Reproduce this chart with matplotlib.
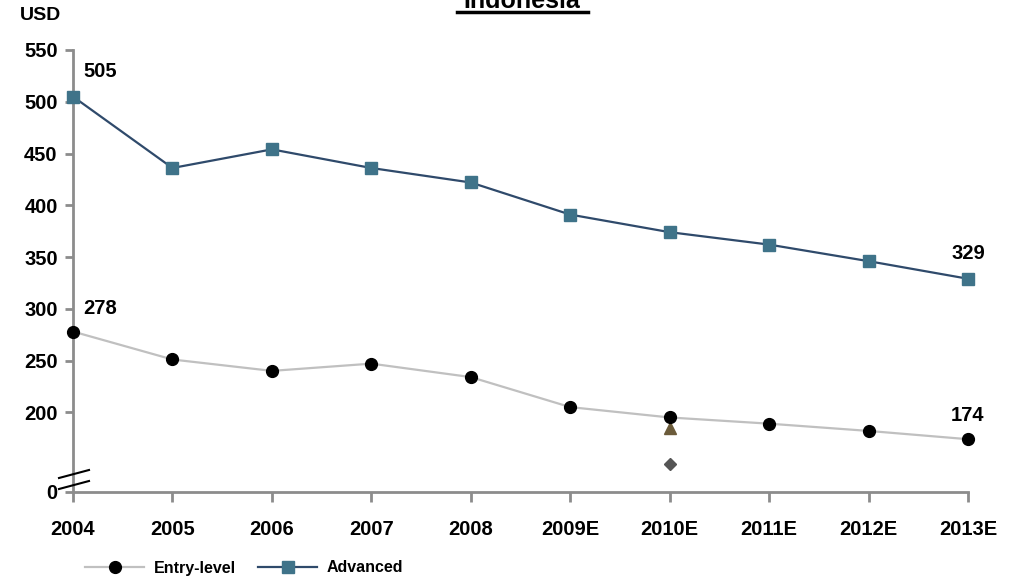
import matplotlib.pyplot as plt
from matplotlib.lines import Line2D

plt.rcParams['font.family'] = ['Liberation Sans', 'DejaVu Sans']
plt.rcParams['font.weight'] = 'bold'

years = ['2004', '2005', '2006', '2007', '2008', '2009E', '2010E', '2011E', '2012E', '2013E']
entry_level = [278, 251, 240, 247, 234, 205, 195, 189, 182, 174]
advanced = [505, 436, 454, 436, 422, 391, 374, 362, 346, 329]

# two stray points at 2010E
triangle_val = [185]
diamond_val = [150]

# broken axis: the "0" tick sits below 200
y_floor = 123
y_ticks = [y_floor, 200, 250, 300, 350, 400, 450, 500, 550]
y_tick_labels = ['0', '200', '250', '300', '350', '400', '450', '500', '550']

fig = plt.figure(figsize=(10.14, 5.78), dpi=100)
ax = fig.add_axes([0.072, 0.1488, 0.8826, 0.7647])

x = list(range(len(years)))
ax.plot(x, entry_level, color='#c0c0c0', lw=1.6, marker='o', ms=8.5,
        mfc='black', mec='black', label='Entry-level', zorder=3, clip_on=False)
ax.plot(x, advanced, color='#2f4a6b', lw=1.6, marker='s', ms=8,
        mfc='#3f7389', mec='#3f7389', label='Advanced', zorder=3, clip_on=False)
ax.plot([6], triangle_val, marker='^', ms=9, color='#6b5b3a', ls='none', zorder=2)
ax.plot([6], diamond_val, marker='D', ms=6, color='#555555', ls='none', zorder=2)

ax.set_xlim(0, 9)
ax.set_ylim(y_floor, 550)
ax.set_xticks(x)
ax.set_xticklabels(years)
ax.set_yticks(y_ticks)
ax.set_yticklabels(y_tick_labels)

for side in ['top', 'right']:
    ax.spines[side].set_visible(False)
for side in ['left', 'bottom']:
    ax.spines[side].set_color('#8c8c8c')
    ax.spines[side].set_linewidth(2)
    ax.spines[side].set_zorder(1)
ax.tick_params(axis='both', colors='#8c8c8c', width=2, labelcolor='black',
               labelsize=14.5)
ax.tick_params(axis='x', length=7, direction='out', pad=13)
ax.tick_params(axis='y', length=6, direction='out', pad=5)

# value labels on the end points
lbl = dict(fontsize=14.5, fontweight='bold', ha='center', va='center')
ax.annotate(str(advanced[0]), (0, advanced[0]), xytext=(27, 25), textcoords='offset pixels', **lbl)
ax.annotate(str(entry_level[0]), (0, entry_level[0]), xytext=(27, 23), textcoords='offset pixels', **lbl)
ax.annotate(str(advanced[-1]), (9, advanced[-1]), xytext=(0, 25), textcoords='offset pixels', **lbl)
ax.annotate(str(entry_level[-1]), (9, entry_level[-1]), xytext=(0, 24), textcoords='offset pixels', **lbl)

# axis break marks
W, H = 1014, 578
for y0 in (478, 489):
    fig.add_artist(Line2D([59 / W, 89 / W], [1 - y0 / H, 1 - (y0 - 8) / H],
                          color='black', lw=1.5))

fig.text(20 / W, 1 - 16 / H, 'USD', fontsize=14, fontweight='bold', va='center')

# title, partly above the top edge, underlined
fig.text(522 / W, 1 - 8 / H, 'Indonesia', fontsize=18, fontweight='bold',
         ha='center', va='baseline')
fig.add_artist(Line2D([457 / W, 588 / W], [1 - 11.5 / H, 1 - 11.5 / H],
                      color='black', lw=2.5))

ax.legend(loc='center left', bbox_to_anchor=(85 / W, 1 - 568 / H), bbox_transform=fig.transFigure,
          ncol=2, frameon=False, prop={'size': 11.5, 'weight': 'bold'},
          handlelength=3.7, columnspacing=1.4, handletextpad=0.6, borderaxespad=0,
          borderpad=0)

fig.savefig('out.png', dpi=100)
